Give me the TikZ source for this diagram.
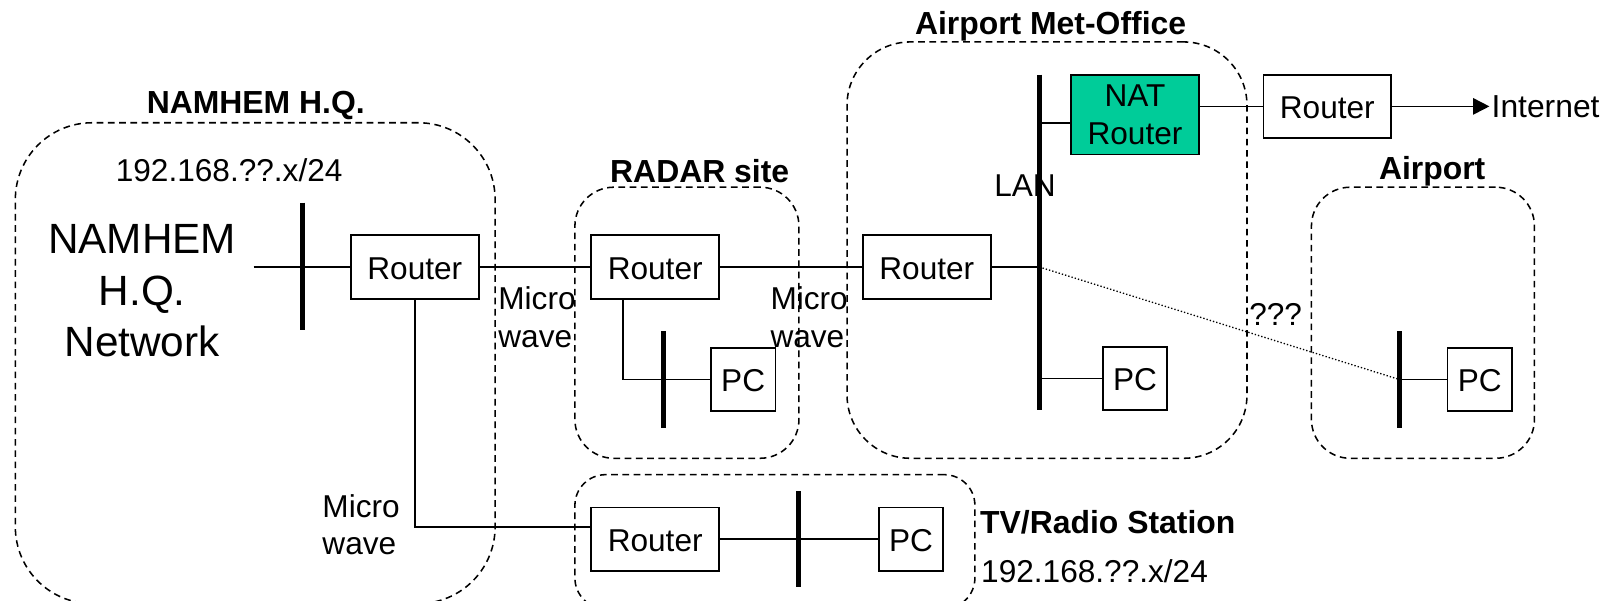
\documentclass[tikz,border=0pt]{standalone}
\usepackage{fontspec}
\setmainfont{Liberation Sans}
\usetikzlibrary{arrows.meta,calc}
\tikzset{
  x=1bp,y=-1bp,
  zone/.style={draw,dash pattern=on 6.5bp off 4.5bp,line width=1.5bp,inner sep=0},
  netbox/.style={draw,fill=white,line width=1.7bp,inner sep=0,align=center,font=\fontsize{31}{38.5}\selectfont},
  routerbox/.style={netbox,minimum width=125bp,minimum height=62bp,text height=24bp,text depth=0bp},
  pcbox/.style={netbox,minimum width=63bp,minimum height=62bp,text height=24bp,text depth=0bp},
  natbox/.style={netbox,fill=natgreen,minimum width=125bp,minimum height=78bp},
  bus/.style={line width=5bp},
  wire/.style={line width=1.7bp},
  lbl/.style={inner sep=0,align=left,font=\fontsize{31}{37}\selectfont},
  ttl/.style={inner sep=0,font=\fontsize{31.3}{37}\selectfont\bfseries},
}
\definecolor{natgreen}{HTML}{00CC99}
\begin{document}
\begin{tikzpicture}
\useasboundingbox (0,0) rectangle (1568,587.5);
\clip (0,0) rectangle (1568,587.5);
% zones
\node[zone,rounded corners=75bp,minimum width=469bp,minimum height=470bp] (hq) at (249.5,355) {};
\node[zone,rounded corners=38bp,minimum width=219bp,minimum height=265bp] (radar) at (671.5,315.5) {};
\node[zone,rounded corners=62bp,minimum width=391bp,minimum height=407bp] (met) at (1023.5,244.5) {};
\node[zone,rounded corners=38bp,minimum width=218bp,minimum height=265bp] (airport) at (1391,315.5) {};
\node[zone,rounded corners=30bp,minimum width=391bp,minimum height=131bp] (tv) at (757.5,529.5) {};
% boxes
\node[routerbox] (rhq) at (405.5,261) {Router};
\node[routerbox] (rradar) at (640.5,261) {Router};
\node[routerbox] (rmet) at (906,261) {Router};
\node[routerbox] (rtop) at (1297.5,104) {Router};
\node[routerbox] (rtv) at (640.5,527) {Router};
\node[natbox] (nat) at (1109.5,112) {\raisebox{-1.5bp}{NAT}\\[-0.5bp]\raisebox{-1bp}{Router}};
\node[pcbox] (pcradar) at (726.5,371) {PC};
\node[pcbox] (pcmet) at (1109.5,370) {PC};
\node[pcbox] (pcair) at (1446.5,371) {PC};
\node[pcbox] (pctv) at (890.5,527) {PC};
% bus end points
\coordinate (bhqa) at (296,198); \coordinate (bhqb) at (296,323);
\coordinate (bradara) at (649,324); \coordinate (bradarb) at (649,418);
\coordinate (bmeta) at (1016,73); \coordinate (bmetb) at (1016,401);
\coordinate (baira) at (1368,324); \coordinate (bairb) at (1368,418);
\coordinate (btva) at (781,480); \coordinate (btvb) at (781,574);
\coordinate (stub) at (248,261);
% labels
\node[inner sep=0,anchor=west] (inet) at (1458,104) {\fontsize{31.2}{36}\selectfont Internet};
% wires
\draw[wire] (stub) -- (rhq.west);
\draw[wire] (rhq.east) -- (rradar.west);
\draw[wire] (rradar.east) -- (rmet.west);
\draw[wire] (rmet.east) -- (rmet.east -| bmeta);
\draw[wire] (nat.west |- 0,120) -- (1016,120);
\draw[wire] (nat.east |- rtop.west) -- (rtop.west);
\draw[wire,-{Triangle[length=16bp,width=16bp]}] (rtop.east) -- ([xshift=-2bp]inet.west);
\draw[wire] (pcmet.west) -- (pcmet.west -| bmeta);
\draw[wire] (pcair.west) -- (pcair.west -| baira);
\draw[wire] ($(rradar.south west)!0.25!(rradar.south east)$) |- (pcradar.west);
\draw[wire] (rhq.south) |- (rtv.west |- 0,515);
\draw[wire] (rtv.east) -- (pctv.west);
\draw[line width=1.3bp,dotted] (rmet.east -| bmeta) -- (pcair.west -| baira);
% buses
\draw[bus] (bhqa) -- (bhqb);
\draw[bus] (bradara) -- (bradarb);
\draw[bus] (bmeta) -- (bmetb);
\draw[bus] (baira) -- (bairb);
\draw[bus] (btva) -- (btvb);
% texts
\node[ttl] (thq) at (250,103.5) {NAMHEM H.Q.};
\node[ttl] (tradar) at (684,167) {RADAR site};
\node[ttl] (tmet) at (1027,25.5) {Airport Met-Office};
\node[ttl] (tair) at (1400,167) {Airport};
\node[ttl,anchor=west] (ttv) at (958,510.5) {TV/Radio Station};
\node[lbl] (iphq) at (224,166) {192.168.??.x/24};
\node[lbl,anchor=west] (iptv) at (959,558) {192.168.??.x/24};
\node[inner sep=0,align=center,font=\fontsize{41.5}{50.5}\selectfont] (nw) at (139,284.5) {NAMHEM\\H.Q.\\Network};
\node[lbl,anchor=west] (mw1) at (487,310) {Micro\\wave};
\node[lbl,anchor=west] (mw2) at (753,310) {Micro\\wave};
\node[lbl,anchor=west] (mw3) at (315,513) {Micro\\wave};
\node[lbl] (lan) at (1002,181) {LAN};
\node[lbl] (qqq) at (1247,307) {???};
\end{tikzpicture}
\end{document}
